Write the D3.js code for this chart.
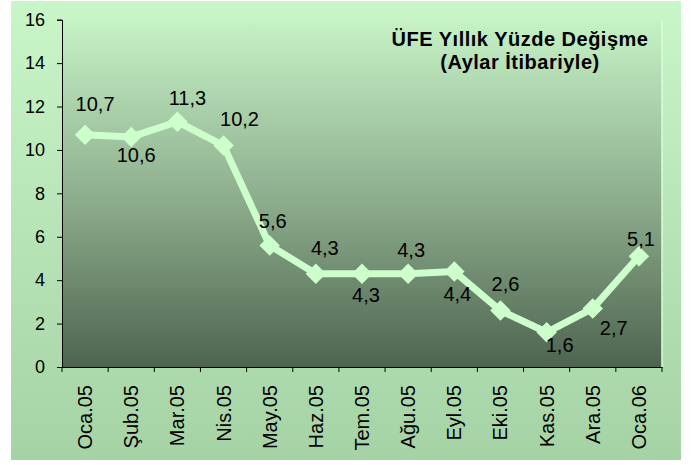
<!DOCTYPE html>
<html><head><meta charset="utf-8">
<script src="https://cdn.jsdelivr.net/npm/d3@7"></script>
<style>body{margin:0;background:#fff}svg{display:block}svg text{font-family:"Liberation Sans",Arial,sans-serif}</style>
</head><body>
<svg id="c" width="691" height="465"></svg>
<script>
const categories = ["Oca.05","Şub.05","Mar.05","Nis.05","May.05","Haz.05","Tem.05","Ağu.05","Eyl.05","Eki.05","Kas.05","Ara.05","Oca.06"];
const values = [10.7,10.6,11.3,10.2,5.6,4.3,4.3,4.3,4.4,2.6,1.6,2.7,5.1];
const valueLabels = ["10,7","10,6","11,3","10,2","5,6","4,3","4,3","4,3","4,4","2,6","1,6","2,7","5,1"];
const yTicks = [0,2,4,6,8,10,12,14,16];
const titleLines = ["ÜFE Yıllık Yüzde Değişme","(Aylar İtibariyle)"];
// label placement: [dx, dy] relative to point (baseline)
const labelOffsets = [[10,-24],[5,25],[10,-17],[16,-20],[3,-17],[9,-19],[4,28],[3,-17],[3,30],[5,-20],[13,20],[21,27],[2,-10]];

const svg = d3.select("#c");
const defs = svg.append("defs");
const og = defs.append("linearGradient").attr("id","outer").attr("x1",0).attr("y1",0).attr("x2",0).attr("y2",1);
og.append("stop").attr("offset","0%").attr("stop-color","#c9f6c9");
og.append("stop").attr("offset","100%").attr("stop-color","#a6d3a6");
const pg = defs.append("linearGradient").attr("id","plot").attr("x1",0).attr("y1",0).attr("x2",0).attr("y2",1);
pg.append("stop").attr("offset","0%").attr("stop-color","#c6f2c6");
pg.append("stop").attr("offset","50%").attr("stop-color","#8fb08f");
pg.append("stop").attr("offset","100%").attr("stop-color","#4e644f");

svg.append("rect").attr("x",11).attr("y",1).attr("width",670).attr("height",459).attr("fill","url(#outer)");

const m = {l:62, r:662, t:19.7, b:367};
const x = d3.scaleBand().domain(categories).range([m.l,m.r]).padding(0);
const y = d3.scaleLinear().domain([0,16]).range([m.b,m.t]);

svg.append("rect").attr("x",m.l).attr("y",m.t).attr("width",m.r-m.l).attr("height",m.b-m.t).attr("fill","url(#plot)");
svg.append("line").attr("x1",m.r).attr("x2",m.r).attr("y1",m.t).attr("y2",m.b).attr("stroke","#d8ffd8").attr("stroke-width",1.5);

const yAxis = svg.append("g").attr("transform",`translate(${m.l},0)`)
  .call(d3.axisLeft(y).tickValues(yTicks).tickSize(5).tickPadding(12).tickFormat(d3.format("d")));
yAxis.attr("font-family",null).attr("font-size",null);
yAxis.selectAll("text").style("font-size","18px").attr("fill","#000");
yAxis.selectAll("line,path").attr("stroke","#000");

const xAxis = svg.append("g").attr("transform",`translate(0,${m.b})`)
  .call(d3.axisBottom(x).tickSize(0).tickSizeOuter(0));
xAxis.attr("font-family",null).attr("font-size",null);
xAxis.select("path").attr("stroke","#000");
xAxis.selectAll("text").style("font-size","20px").attr("fill","#000")
  .attr("transform","rotate(-90)").attr("text-anchor","end").attr("dx",-18).attr("dy","0.35em").attr("y",0).attr("x",0);
const bounds = categories.map(c=>x(c)).concat([m.r]);
svg.append("g").selectAll("line").data(bounds).join("line")
  .attr("x1",d=>d).attr("x2",d=>d).attr("y1",m.b).attr("y2",m.b+5).attr("stroke","#000");

const cx = (d,i)=>x(categories[i])+x.bandwidth()/2;
const line = d3.line().x((d,i)=>cx(d,i)).y(d=>y(d));
svg.append("path").datum(values).attr("d",line).attr("fill","none")
  .attr("stroke","#ccffcc").attr("stroke-width",7).attr("stroke-linejoin","round");
svg.append("g").selectAll("path").data(values).join("path")
  .attr("d",d3.symbol(d3.symbolSquare, 210))
  .attr("transform",(d,i)=>`translate(${cx(d,i)},${y(d)}) rotate(45)`)
  .attr("fill","#ccffcc");

svg.append("g").selectAll("text").data(values).join("text")
  .attr("x",(d,i)=>cx(d,i)+labelOffsets[i][0])
  .attr("y",(d,i)=>y(d)+labelOffsets[i][1])
  .attr("text-anchor","middle").style("font-size","20px").attr("fill","#000")
  .text((d,i)=>valueLabels[i]);

svg.append("g").selectAll("text").data(titleLines).join("text")
  .attr("x",520).attr("y",(d,i)=>46+i*23)
  .attr("text-anchor","middle").style("font-size","20px").attr("font-weight","bold")
  .attr("letter-spacing",0.5).attr("fill","#000").text(d=>d);
</script>
</body></html>
